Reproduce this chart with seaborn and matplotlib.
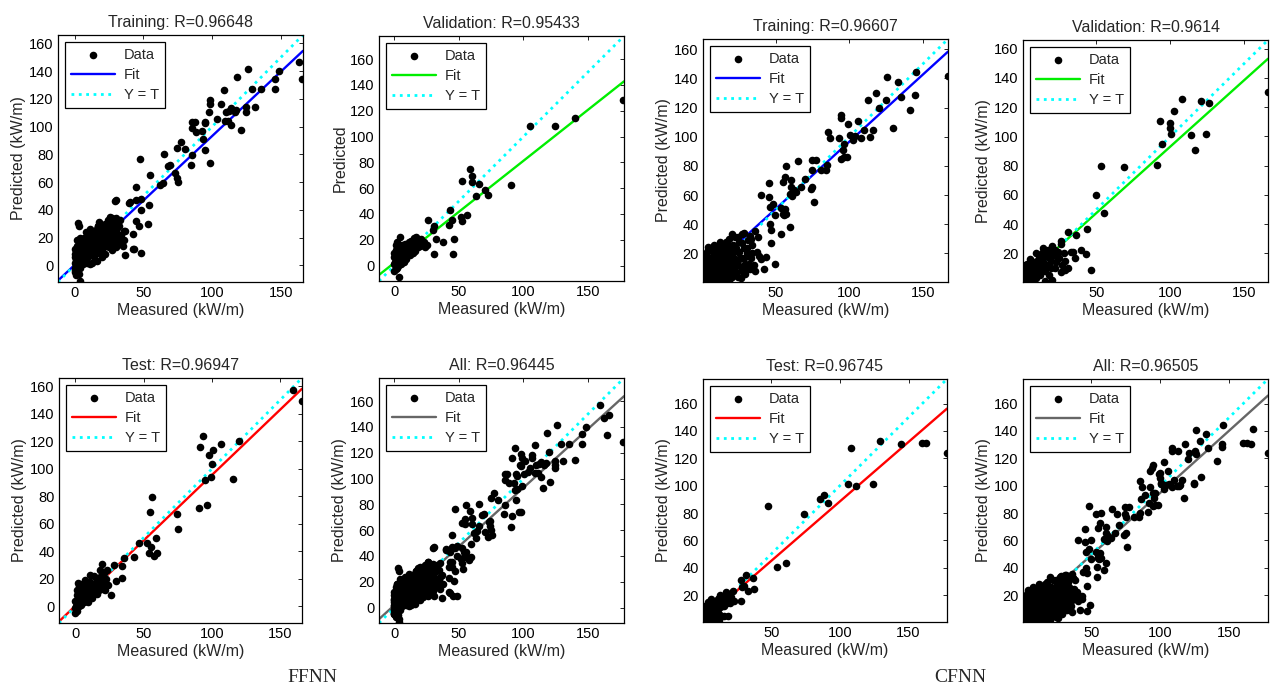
import numpy as np
import matplotlib
matplotlib.use("Agg")
import matplotlib.pyplot as plt
import seaborn as sns

# ------------------------------------------------------------------
# Data: (measured, predicted) pairs
# ------------------------------------------------------------------
ffnn_train = [
    # outliers / upper range
    (162.8, 146.8), (165, 134), (126, 141.5), (148.5, 140), (145.3, 134.3), (145.5, 127),
    (135.2, 127), (129.1, 127), (118.3, 135.5), (108.6, 126.3), (106.6, 116.2), (113.4, 113.1),
    (117.5, 111.9), (112, 111.2), (109.8, 110.2), (116.3, 110.7), (98.2, 119.1), (98.7, 116.2),
    (97.7, 110.7), (103.7, 105.2), (109, 104), (111.5, 104.2), (113.9, 101.1), (124.8, 113.8),
    (130.8, 113.8), (124.3, 110.7), (120.7, 97.5), (98.2, 73.9), (94.6, 103.5), (95, 102.3),
    (92.9, 96.7), (94.6, 83), (85.6, 103.5), (87.3, 103.5), (85.6, 99.1), (88.5, 96.3),
    (93.4, 91.4), (85.6, 79.3), (84.9, 72.2), (77.1, 89), (74.7, 84.7), (65.2, 79.9),
    (69.1, 72.2), (68.1, 71.7), (73, 66.2), (74.2, 63.1), (74.9, 60.2), (64.3, 59),
    (62, 57.8), (80, 83.7), (47.3, 76.3), (54.7, 65), (44.9, 56.6), (44.9, 47), (48.5, 48.1),
    (48.5, 39.7), (54.1, 43.3), (53.4, 29.6), (40, 45.7), (30.4, 47), (44.9, 31.8),
    (46.8, 28.4), (42.5, 22.9), (42.5, 12), (48.5, 9.2), (35.7, 24.6), (2.5, 30.6),
    (3.2, 28.2), (3.7, -11.5), (29.6, 46.5), (39.6, 45), (17, 28.4), (43.2, 11.6), (36.9, 7.2),
    # dense cluster near the origin
    (0, -5), (1, -7), (2, -4), (3, -6), (0, -2), (1, 0), (0, 2), (2, 1), (1, 4), (0, 6),
    (2, 7), (1, 10), (0, 12), (2, 14), (3, 9), (3, 3), (4, 0), (4, -2), (5, 2), (5, 6),
    (6, 10), (5, 13), (4, 16), (6, 18), (7, 20), (8, 15), (8, 11), (7, 6), (7, 3), (9, 5),
    (10, 8), (10, 13), (9, 18), (10, 22), (12, 24), (12, 19), (12, 14), (12, 9), (14, 6),
    (15, 10), (14, 15), (15, 20), (14, 25), (16, 23), (17, 28), (18, 18), (18, 13), (18, 9),
    (20, 11), (20, 16), (20, 22), (21, 27), (22, 30), (23, 25), (23, 19), (23, 14), (25, 13),
    (25, 18), (26, 23), (26, 31), (27, 34), (28, 28), (28, 20), (29, 16), (30, 25), (30, 32),
    (31, 20), (32, 28), (33, 16), (34, 22), (35, 14), (36, 18), (37, 25), (33, 33), (16, 3),
    (13, 2), (11, 1), (20, 6), (22, 8), (27, 11), (30, 13),
    (0.5, -3), (1.5, -1), (2.5, 3), (0.5, 8), (1.5, 12), (3.5, 5), (4.5, 11), (5.5, 8),
    (6.5, 14), (7.5, 16), (8.5, 8), (9.5, 11), (11, 16), (11, 20), (13, 11), (13, 17),
    (13, 21), (16, 14), (17, 17), (16, 26), (19, 20), (19, 25), (21, 13), (22, 18), (24, 22),
    (24, 28), (19, 9), (25, 26), (27, 16), (29, 24), (31, 27), (29, 31), (32, 22), (34, 18),
    (3, -1), (6, 1), (9, 2), (2, 18), (4, 20), (8, 24), (11, 26), (18, 31), (24, 33),
    (26, 35), (30, 34),
]
ffnn_val = [
    (177.5, 128.7), (140, 114.5), (124.4, 108), (105, 108), (90, 62.1), (70, 58.8),
    (72.6, 54.9), (63, 53.6), (65.7, 63.4), (58.9, 74.8), (60.5, 69.1), (60.5, 64.5),
    (52.7, 65.2), (56.6, 38.8), (51.9, 37.5), (52.7, 34.7), (43.4, 42.7), (44.7, 35.4),
    (42.4, 31.5), (46, 20.7), (45, 8.7), (37.7, 18.6), (32, 20.4), (29.9, 27.7), (30.4, 30.3),
    (26, 35.4), (30.7, 8.7), (4, 22.5), (2, 18.6), (3.3, -8.6), (20.4, 20.7), (13.6, 19.4),
    (0, -4), (1, -1), (0, 1), (2, 2), (1, 5), (0, 7), (2, 9), (3, 4), (3, 0), (4, 2), (4, 7),
    (3, 11), (5, 10), (6, 5), (6, 8), (5, 13), (7, 12), (8, 7), (8, 10), (9, 14), (10, 9),
    (10, 12), (11, 15), (12, 11), (13, 14), (14, 17), (15, 12), (16, 16), (17, 19), (18, 14),
    (19, 17), (20, 15), (21, 19), (2, 13), (1, 16), (4, 15), (6, 16), (8, 17), (11, 18),
    (13, 19), (15, 21), (17, 22), (22, 17), (24, 14), (25, 16), (12, 8), (14, 10), (16, 11),
    (9, 5), (7, 3), (5, 1), (1, -3),
    (0.5, 3), (1.5, 7), (3, 6), (4.5, 9), (6, 12), (7, 9), (9, 8), (10, 16), (11, 10),
    (13, 12), (15, 15), (17, 14), (18, 17), (19, 20), (20, 19), (23, 18), (2, -2), (0, 10),
    (1, 12),
]
ffnn_test = [
    (159.4, 157), (166, 149.5), (93.3, 123.5), (91.3, 116.2), (106.8, 117.9), (101.1, 113.8),
    (98.2, 110.1), (100.4, 103.3), (120, 120.3), (95, 92), (99.2, 94.4), (115.3, 92.7),
    (90.8, 71.3), (96.2, 73.7), (74.2, 67.2), (75.4, 56.2), (55.8, 79.3), (54.6, 68.9),
    (46.8, 46.3), (52.2, 45.8), (55.1, 42.9), (54.1, 39), (59, 49.4), (59.5, 39), (57.8, 36.6),
    (42.8, 35.6), (35.5, 34.9), (34.3, 29.3), (34.3, 21), (30.1, 18.4), (28.4, 30), (26, 8.6),
    (19.6, 31.2), (10.5, 23.2), (17.9, 26.4), (22.8, 26.4), (24, 15.4), (22.3, 19.8),
    (0, -5), (1, -3), (0, -1), (1, 2), (0, 4), (2, 0), (2, 5), (1, 8), (3, 3), (3, 7), (2, 11),
    (4, 9), (4, 13), (5, 5), (5, 16), (6, 8), (6, 11), (7, 14), (8, 6), (8, 10), (9, 12),
    (10, 9), (10, 15), (11, 18), (12, 11), (13, 14), (14, 9), (15, 16), (16, 19), (17, 12),
    (18, 15), (19, 22), (20, 13), (20, 17), (21, 24), (3, 15), (2, 17), (6, 3), (4, 1),
    (12, 6), (16, 9), (22, 12), (9, 3), (7, 19), (14, 22),
    (0.5, 0), (1.5, 5), (3, 0), (2, 9), (4, 6), (5, 11), (7, 9), (8, 13), (9, 16), (11, 13),
    (12, 16), (13, 9), (15, 13), (17, 16), (18, 20), (20, 20), (1, 12), (3, 10),
]
cfnn_train = [
    (167, 141.7), (145.5, 144.3), (134.8, 127.5), (144.3, 128.6), (140.9, 118.3),
    (129.6, 106.1), (125.5, 140.8), (133, 137.8), (117.8, 130.3), (125.1, 125.2),
    (112.6, 125.2), (120.1, 119.5), (105.8, 111), (109.7, 104.5), (116, 104.5), (113.8, 99.9),
    (108.1, 99.2), (104, 100.4), (100.2, 101.1), (102.4, 97.6), (99, 108.7), (94.5, 114.9),
    (94, 112.6), (92.7, 98.8), (96.3, 94.9), (95.6, 91.2), (96.1, 86.1), (98.3, 86.1),
    (94.5, 85), (85.4, 103.4), (86.6, 98.8), (85, 80.4), (80.9, 77), (84.3, 77), (74.6, 84.3),
    (77.5, 84.3), (74.8, 77), (73.6, 64.3), (74.8, 65.5), (75.7, 55.1), (70, 71.2),
    (67.3, 65.5), (65, 83.2), (60.5, 70.1), (60.5, 65.5), (62.3, 63.6), (63.9, 62),
    (56.7, 79.9), (56, 72.4), (54.8, 68.9), (59.4, 60.9), (61.2, 59.7), (59.4, 38.4),
    (53.3, 51.2), (54.8, 47.1), (56, 50.5), (55.3, 46.4), (57.1, 47.1), (49.6, 46.4),
    (48, 54), (45.8, 51.7), (45.3, 68.2), (40.1, 60.2), (45.3, 58.6), (53.7, 33.3),
    (46.9, 36.1), (45.8, 40.2), (46.9, 26.9), (49.2, 12.6), (43.5, 17.2), (38.5, 17.9),
    (32.2, 9.2), (35.6, 35.6), (32.2, 32.2), (3.9, 24.1),
    (1, 1), (2, 3), (1, 5), (3, 1), (4, 4), (2, 8), (1, 11), (3, 12), (2, 15), (4, 17),
    (1, 19), (5, 9), (6, 2), (6, 6), (6, 13), (7, 18), (8, 4), (8, 10), (8, 21), (9, 15),
    (10, 7), (10, 2), (10, 24), (11, 12), (12, 18), (12, 5), (13, 22), (13, 9), (14, 14),
    (14, 26), (15, 3), (15, 19), (16, 11), (16, 28), (17, 7), (17, 23), (18, 15), (18, 30),
    (19, 20), (20, 4), (20, 10), (21, 26), (22, 16), (22, 31), (23, 7), (24, 21), (24, 12),
    (25, 28), (26, 17), (27, 33), (27, 8), (28, 24), (29, 13), (30, 20), (31, 29), (31, 9),
    (33, 17), (34, 26), (35, 12), (36, 8), (37, 21), (38, 31), (26, 3), (18, 1), (12, 1),
    (5, 22), (3, 21), (20, 33), (28, 34), (40, 16), (42, 9),
    (0.5, 3), (0.5, 8), (0.5, 14), (2, 1), (3, 6), (4, 10), (5, 14), (3, 17), (5, 4), (7, 1),
    (7, 9), (7, 14), (9, 7), (9, 12), (9, 18), (11, 4), (11, 9), (11, 21), (12, 14), (13, 3),
    (13, 16), (14, 6), (14, 19), (15, 11), (15, 23), (16, 7), (16, 15), (17, 19), (18, 4),
    (18, 11), (19, 25), (20, 14), (20, 18), (21, 7), (21, 21), (22, 12), (23, 24), (24, 4),
    (25, 16), (25, 21), (26, 11), (27, 27), (28, 17), (29, 6), (30, 24), (32, 13), (33, 30),
    (34, 20), (2, 19), (4, 22), (6, 24), (8, 26), (12, 28), (24, 31),
]
cfnn_val = [
    (166, 130.5), (125.9, 123.2), (121, 124.1), (108.1, 125.5), (102.5, 117.2), (92.8, 110.6),
    (100, 109.2), (99.5, 105.8), (100.7, 101.9), (94.4, 95), (114.2, 100.8), (124.3, 101.9),
    (116.9, 90.9), (91, 80.8), (68.7, 79), (53.4, 79.5), (50, 60.2), (55, 47.6), (43.9, 36.6),
    (36.5, 32.5), (30.9, 34.8), (39.9, 22.2), (43.2, 19.5), (46.6, 8.5), (35.8, 16.5),
    (33.1, 20.6), (34.2, 20.6), (28.6, 8.5), (25.9, 28.6), (26.4, 26.3),
    (1, 1), (2, 3), (1, 6), (3, 1), (4, 4), (2, 9), (5, 7), (6, 2), (6, 11), (7, 5), (8, 9),
    (8, 14), (9, 3), (10, 7), (10, 12), (11, 17), (12, 5), (12, 10), (13, 20), (14, 14),
    (14, 24), (15, 8), (16, 18), (17, 12), (17, 22), (18, 5), (19, 15), (20, 25), (21, 19),
    (22, 10), (23, 14), (24, 21), (25, 17), (27, 12), (28, 20), (29, 15), (3, 13), (5, 16),
    (9, 20), (20, 2), (15, 1), (31, 10), (26, 7),
    (0.5, 4), (2, 6), (3, 3), (4, 8), (5, 11), (7, 8), (8, 4), (9, 11), (10, 15), (11, 7),
    (12, 14), (13, 17), (15, 12), (16, 21), (18, 17), (19, 10), (20, 20), (22, 22), (24, 17),
    (2, 12), (0.5, 10),
]
cfnn_test = [
    (178, 124.1), (159.8, 131.5), (162.9, 131.5), (144.7, 130.3), (128.9, 133), (108.2, 127.8),
    (106.3, 100.9), (111.9, 99.9), (124.5, 101.6), (88.8, 93), (85.6, 90.1), (91.7, 87.7),
    (47.9, 85), (74.2, 79.6), (54, 40.9), (60.8, 43.3), (37, 32.6), (37.5, 24.5), (31.6, 34.8),
    (33.3, 23.3), (27.7, 31.1), (30.2, 26.9), (28.5, 26.2), (27.7, 15.9), (18.7, 4.9),
    (1, 1), (2, 3), (1, 5), (3, 2), (4, 5), (2, 8), (5, 9), (6, 3), (6, 12), (7, 6), (8, 10),
    (8, 15), (9, 4), (10, 8), (10, 13), (11, 17), (12, 6), (13, 11), (13, 20), (14, 15),
    (15, 19), (16, 12), (17, 22), (18, 17), (19, 21), (20, 14), (21, 19), (22, 23), (3, 12),
    (5, 14), (12, 2), (16, 5), (9, 1), (23, 16),
    (0.5, 3), (2, 5), (3, 8), (4, 11), (5, 3), (7, 10), (8, 6), (9, 13), (10, 16), (11, 10),
    (12, 18), (14, 12), (15, 16), (17, 19), (18, 14), (20, 18), (0.5, 8), (2, 12), (4, 15),
    (6, 17),
]

# panel names and R values
sets = ["Training", "Validation", "Test", "All"]
ffnn_r = ["0.96648", "0.95433", "0.96947", "0.96445"]
cfnn_r = ["0.96607", "0.9614", "0.96745", "0.96505"]

# fitted lines  Y = slope*T + intercept
ffnn_slope = [0.93, 0.79, 0.95, 0.91]
ffnn_icpt = [0.2, 2.2, 0.5, 1.9]
cfnn_slope = [0.92, 0.91, 0.87, 0.91]
cfnn_icpt = [4.7, 2.1, 1.5, 3.9]

# axis limits (same on x and y)
ffnn_lims = [(-12, 166), (-12, 178), (-12, 166), (-12, 178)]
cfnn_lims = [(0.4, 167), (0.4, 166), (0.4, 178), (0.4, 178)]

fit_colors = {"Training": "#0000ff", "Validation": "#00ee00", "Test": "#ff0000", "All": "#666666"}

# ------------------------------------------------------------------
sns.set_theme(style="white")
plt.rcParams["font.family"] = ["Liberation Sans", "DejaVu Sans"]

W, H = 1272, 691
fig = plt.figure(figsize=(W / 100, H / 100), dpi=100)

# axes boxes in pixels: (left, top, right, bottom)
boxes = {
    ("FFNN", "Training"): (58, 35, 303, 282),
    ("FFNN", "Validation"): (379, 36, 624, 281),
    ("FFNN", "Test"): (59, 378, 302, 623),
    ("FFNN", "All"): (379, 378, 624, 623),
    ("CFNN", "Training"): (703, 39, 948, 282),
    ("CFNN", "Validation"): (1023, 40, 1268, 282),
    ("CFNN", "Test"): (703, 379, 947, 622),
    ("CFNN", "All"): (1023, 379, 1268, 622),
}

data = {
    "FFNN": [ffnn_train, ffnn_val, ffnn_test, ffnn_train + ffnn_val + ffnn_test],
    "CFNN": [cfnn_train, cfnn_val, cfnn_test, cfnn_train + cfnn_val + cfnn_test],
}
rvals = {"FFNN": ffnn_r, "CFNN": cfnn_r}
slopes = {"FFNN": ffnn_slope, "CFNN": cfnn_slope}
icpts = {"FFNN": ffnn_icpt, "CFNN": cfnn_icpt}
lims = {"FFNN": ffnn_lims, "CFNN": cfnn_lims}

for net in ["FFNN", "CFNN"]:
    for i, name in enumerate(sets):
        l, t, r, b = boxes[(net, name)]
        ax = fig.add_axes([l / W, 1 - b / H, (r - l) / W, (b - t) / H])
        pts = np.array(data[net][i])
        lo, hi = lims[net][i]
        xs = np.array([lo, hi])

        sns.lineplot(x=xs, y=slopes[net][i] * xs + icpts[net][i], color=fit_colors[name],
                     linewidth=1.7, ax=ax, label="Fit", zorder=2)
        sns.lineplot(x=xs, y=xs, color="#00ffff", linewidth=2.0, linestyle=":",
                     ax=ax, label="Y = T", zorder=2)
        sns.scatterplot(x=pts[:, 0], y=pts[:, 1], color="black", s=30, linewidth=0,
                        ax=ax, label="Data", zorder=3)

        ax.set_xlim(lo, hi)
        ax.set_ylim(lo, hi)
        if net == "FFNN":
            ax.set_xticks([0, 50, 100, 150])
            ax.set_yticks(range(0, 161, 20))
        else:
            ax.set_xticks([50, 100, 150])
            ax.set_yticks(range(20, 161, 20))
        ax.tick_params(direction="in", top=True, right=True, length=3, width=0.6,
                       labelsize=10.5, pad=3, colors="black")
        for sp in ax.spines.values():
            sp.set_color("black")
            sp.set_linewidth(0.9)

        ax.set_title(f"{name}: R={rvals[net][i]}", fontsize=11.5, pad=6)
        ax.set_xlabel("Measured (kW/m)", fontsize=11.5, labelpad=2)
        ylab = "Predicted" if (net == "FFNN" and name == "Validation") else "Predicted (kW/m)"
        ax.set_ylabel(ylab, fontsize=11.5, labelpad=2)

        h, lab = ax.get_legend_handles_labels()
        order = [lab.index("Data"), lab.index("Fit"), lab.index("Y = T")]
        ax.legend([h[k] for k in order], [lab[k] for k in order], loc="upper left",
                  fontsize=10.5, frameon=True, fancybox=False, framealpha=1,
                  edgecolor="black", handlelength=3.0, borderaxespad=0.5,
                  labelspacing=0.4, handletextpad=0.6, borderpad=0.4)
        ax.get_legend().get_frame().set_linewidth(0.9)

fig.text(312 / W, 1 - 678 / H, "FFNN", ha="center", va="center",
         family=["Liberation Serif", "DejaVu Serif"], fontsize=14)
fig.text(960 / W, 1 - 678 / H, "CFNN", ha="center", va="center",
         family=["Liberation Serif", "DejaVu Serif"], fontsize=14)

fig.savefig("out.png", dpi=100)
